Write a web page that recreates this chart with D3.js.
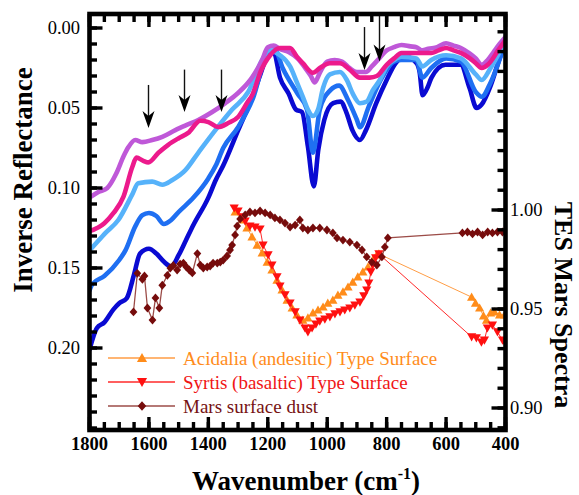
<!DOCTYPE html>
<html>
<head>
<meta charset="utf-8">
<script src="https://cdn.jsdelivr.net/npm/d3@7"></script>
<style>
  body { margin: 0; background: #fff; }
  svg { display: block; }
  text { font-family: "Liberation Serif", "Times New Roman", Times, serif; }
</style>
</head>
<body>
<svg id="chart" width="579" height="495"></svg>
<script>
// ---------- Laboratory spectra (wavenumber cm-1, inverse reflectance) ----------
const labPurple = [[1800,0.106],[1770,0.1025],[1740,0.100],[1710,0.091],[1685,0.080],[1669,0.0744],[1646,0.070],[1622,0.0713],[1589,0.070],[1555,0.068],[1511,0.0638],[1478,0.061],[1434,0.0575],[1387,0.0525],[1343,0.0469],[1300,0.0406],[1253,0.031],[1219,0.020],[1200,0.012],[1180,0.011],[1160,0.013],[1130,0.015],[1100,0.019],[1070,0.026],[1055,0.030],[1042,0.034],[1025,0.028],[1000,0.021],[975,0.020],[950,0.021],[925,0.025],[900,0.0275],[870,0.0275],[850,0.024],[825,0.019],[800,0.014],[775,0.012],[750,0.0106],[720,0.0115],[700,0.012],[680,0.014],[660,0.013],[630,0.012],[600,0.0095],[575,0.011],[550,0.0125],[520,0.016],[500,0.019],[480,0.023],[460,0.020],[440,0.015],[420,0.010],[400,0.0056]];
const labPink = [[1800,0.127],[1750,0.122],[1719,0.1156],[1686,0.1056],[1656,0.0869],[1642,0.081],[1619,0.083],[1602,0.084],[1568,0.078],[1535,0.073],[1501,0.069],[1468,0.0656],[1427,0.058],[1400,0.0588],[1367,0.0619],[1333,0.0594],[1300,0.0556],[1270,0.0469],[1250,0.041],[1226,0.028],[1192,0.017],[1159,0.0125],[1125,0.0125],[1102,0.018],[1082,0.022],[1048,0.028],[1025,0.025],[991,0.022],[957,0.022],[924,0.026],[890,0.031],[857,0.031],[833,0.030],[800,0.023],[775,0.019],[750,0.0156],[700,0.0156],[650,0.0156],[625,0.014],[600,0.0125],[575,0.014],[550,0.0156],[520,0.019],[500,0.022],[480,0.025],[460,0.023],[450,0.021],[425,0.014],[400,0.0075]];
const labLightBlue = [[1800,0.139],[1790,0.137],[1746,0.128],[1703,0.120],[1656,0.104],[1636,0.097],[1589,0.096],[1555,0.098],[1521,0.095],[1478,0.089],[1434,0.078],[1377,0.064],[1320,0.051],[1266,0.040],[1219,0.020],[1195,0.014],[1159,0.017],[1125,0.024],[1102,0.034],[1082,0.043],[1065,0.051],[1048,0.055],[1031,0.051],[1014,0.0375],[991,0.029],[957,0.0275],[934,0.0325],[914,0.041],[890,0.047],[867,0.046],[847,0.039],[823,0.0325],[800,0.024],[775,0.020],[750,0.018],[700,0.019],[680,0.024],[650,0.020],[600,0.017],[550,0.019],[500,0.029],[480,0.0325],[450,0.025],[400,0.0075]];
const labMidBlue = [[1800,0.164],[1790,0.160],[1750,0.155],[1700,0.145],[1679,0.139],[1646,0.124],[1622,0.117],[1600,0.1156],[1575,0.1175],[1550,0.1225],[1525,0.120],[1500,0.115],[1450,0.106],[1400,0.094],[1375,0.086],[1350,0.075],[1300,0.062],[1250,0.044],[1200,0.0156],[1175,0.014],[1150,0.025],[1100,0.041],[1068,0.051],[1048,0.078],[1025,0.051],[990,0.039],[960,0.036],[930,0.045],[900,0.0575],[890,0.062],[860,0.049],[820,0.0325],[775,0.021],[750,0.020],[700,0.020],[680,0.031],[650,0.025],[600,0.019],[550,0.021],[500,0.040],[480,0.043],[450,0.034],[400,0.0087]];
const labDarkBlue = [[1800,0.201],[1775,0.1875],[1750,0.184],[1720,0.176],[1700,0.172],[1675,0.169],[1650,0.154],[1630,0.141],[1600,0.138],[1575,0.141],[1550,0.146],[1525,0.149],[1500,0.142],[1475,0.1325],[1450,0.123],[1400,0.106],[1375,0.095],[1350,0.086],[1300,0.064],[1250,0.042],[1225,0.029],[1200,0.017],[1180,0.015],[1159,0.031],[1130,0.041],[1105,0.051],[1085,0.0525],[1065,0.074],[1045,0.099],[1030,0.076],[1010,0.0575],[980,0.047],[955,0.046],[935,0.053],[915,0.064],[890,0.070],[870,0.064],[835,0.047],[800,0.0325],[770,0.022],[735,0.018],[699,0.022],[689,0.0275],[679,0.042],[662,0.037],[649,0.031],[602,0.023],[551,0.023],[521,0.0375],[497,0.050],[481,0.048],[450,0.036],[420,0.019],[400,0.0087]];

// ---------- TES Mars spectra (wavenumber cm-1, emissivity) ----------
const tesAcidalia = [[1310,0.999],[1286,0.995],[1270,0.991],[1253,0.9864],[1236,0.9823],[1219,0.9783],[1202,0.9737],[1186,0.9697],[1169,0.9646],[1152,0.9596],[1135,0.9545],[1118,0.9505],[1102,0.947],[1082,0.9444],[1065,0.9455],[1048,0.948],[1031,0.9495],[1014,0.951],[998,0.953],[981,0.9545],[964,0.957],[947,0.9586],[930,0.9611],[914,0.9636],[897,0.9662],[880,0.9687],[863,0.9712],[847,0.9747],[833,0.9773],[826,0.9778],[514,0.956],[501,0.953],[487,0.9505],[474,0.9465],[464,0.9444],[450,0.948],[437,0.9485],[420,0.947],[403,0.947]];
const tesSyrtis = [[1313,1.001],[1300,0.9995],[1286,0.9965],[1276,0.9944],[1260,0.9919],[1243,0.9914],[1226,0.9904],[1216,0.9823],[1199,0.9773],[1186,0.9722],[1169,0.9662],[1159,0.9616],[1142,0.9571],[1125,0.953],[1108,0.9485],[1092,0.9444],[1075,0.9404],[1065,0.9384],[1051,0.9404],[1038,0.9424],[1025,0.9439],[1008,0.9449],[991,0.946],[974,0.9475],[957,0.9485],[941,0.9495],[924,0.9505],[907,0.952],[890,0.9535],[877,0.9566],[867,0.9596],[860,0.9631],[853,0.9687],[847,0.9722],[837,0.9758],[826,0.9778],[514,0.9359],[498,0.9354],[481,0.9333],[471,0.9343],[461,0.9404],[444,0.9419],[427,0.9384],[410,0.9343],[400,0.9328]];
const tesDust = [[1652,0.9485],[1639,0.968],[1622,0.965],[1615,0.9667],[1605,0.9505],[1588,0.9444],[1578,0.9556],[1565,0.9505],[1555,0.962],[1538,0.967],[1528,0.9707],[1518,0.972],[1505,0.9697],[1495,0.9727],[1484,0.9732],[1474,0.9712],[1464,0.9697],[1454,0.9682],[1437,0.978],[1427,0.9722],[1417,0.9707],[1404,0.9712],[1394,0.9717],[1384,0.9732],[1370,0.9732],[1360,0.9737],[1350,0.9747],[1337,0.9768],[1327,0.9798],[1320,0.9823],[1310,0.9874],[1303,0.9919],[1293,0.9955],[1276,0.9975],[1260,0.999],[1243,0.9985],[1226,0.9995],[1209,0.9985],[1192,0.9975],[1176,0.996],[1159,0.995],[1142,0.9934],[1125,0.9914],[1108,0.9924],[1092,0.995],[1082,0.9909],[1065,0.9899],[1048,0.9909],[1025,0.9909],[1001,0.9899],[981,0.9884],[967,0.9859],[947,0.9848],[924,0.9838],[900,0.9823],[883,0.9798],[867,0.9763],[850,0.9737],[833,0.9722],[816,0.9763],[806,0.9813],[796,0.9859],[545,0.9884],[528,0.9889],[511,0.9879],[494,0.9889],[477,0.9874],[460,0.9889],[444,0.9884],[427,0.9889],[410,0.9889],[400,0.9889]];

// ---------- Marked absorption features (wavenumber, arrow start, arrow tip) ----------
const arrowWn   = [1602, 1481, 1359, 876, 825];
const arrowFrom = [0.0356, 0.026, 0.026, -0.0006, -0.008];
const arrowTo   = [0.0625, 0.0525, 0.0525, 0.0263, 0.021];

// ---------- Axis ticks and labels ----------
const xMajorTicks = [1800, 1600, 1400, 1200, 1000, 800, 600, 400];
const xMinorTicks = d3.range(1800, 350, -50);
const leftMajorTicks = [0.00, 0.05, 0.10, 0.15, 0.20];
const leftMinorTicks = d3.range(0, 26).map(i => i / 100);
const rightMajorTicks = [0.90, 0.95, 1.00];
const rightMinorTicks = d3.range(89, 110).map(i => i / 100);

const legendLabels = ["Acidalia (andesitic) Type Surface", "Syrtis (basaltic) Type Surface", "Mars surface dust"];

// ---------- Layout ----------
const svg = d3.select("#chart");
svg.append("rect").attr("width", 579).attr("height", 495).attr("fill", "#fff");

const frameL = 89.5, frameR = 505.5, frameT = 14, frameB = 430;
const x  = d3.scaleLinear().domain([1800, 400]).range([frameL, frameR]);
const yL = d3.scaleLinear().domain([0, 0.25]).range([28, 428]);
const yR = d3.scaleLinear().domain([0.90, 1.00]).range([408, 210]);

const plot = svg.append("g");
plot.append("clipPath").attr("id", "clip")
  .append("rect").attr("x", frameL).attr("y", frameT).attr("width", frameR - frameL).attr("height", frameB - frameT);

// Laboratory spectra
const labLine = d3.line().x(d => x(d[0])).y(d => yL(d[1])).curve(d3.curveMonotoneX);
const labSeries = [
  { data: labDarkBlue,  color: "#0a0ad2" },
  { data: labMidBlue,   color: "#1f6ff2" },
  { data: labLightBlue, color: "#56b2fa" },
  { data: labPurple,    color: "#bf58d8" },
  { data: labPink,      color: "#ec1a8c" }
];
const curves = plot.append("g").attr("clip-path", "url(#clip)");
labSeries.forEach(s => {
  curves.append("path").datum(s.data)
    .attr("d", labLine)
    .attr("fill", "none")
    .attr("stroke", s.color)
    .attr("stroke-width", 4.6)
    .attr("stroke-linejoin", "round")
    .attr("stroke-linecap", "round");
});

// TES spectra
const markerPaths = {
  up:      "M0,-4.6L4.6,3.6L-4.6,3.6Z",
  down:    "M0,4.6L4.6,-3.6L-4.6,-3.6Z",
  diamond: "M0,-4.4L3.9,0L0,4.4L-3.9,0Z"
};
const tesSeries = [
  { data: tesAcidalia, line: "#ff9d45", fill: "#ff8c1a", marker: "up",      lw: 1 },
  { data: tesSyrtis,   line: "#ff2a2a", fill: "#ff1010", marker: "down",    lw: 1 },
  { data: tesDust,     line: "#9c4c48", fill: "#760c0c", marker: "diamond", lw: 1.3 }
];
const tesLine = d3.line().x(d => x(d[0])).y(d => yR(d[1]));
const tesG = plot.append("g").attr("clip-path", "url(#clip)");
tesSeries.forEach(s => {
  tesG.append("path").datum(s.data)
    .attr("d", tesLine).attr("fill", "none")
    .attr("stroke", s.line).attr("stroke-width", s.lw);
  tesG.selectAll(null).data(s.data).enter().append("path")
    .attr("d", markerPaths[s.marker])
    .attr("transform", d => `translate(${x(d[0])},${yR(d[1])})`)
    .attr("fill", s.fill);
});

// Arrows marking features
const arrows = plot.append("g");
arrowWn.forEach((wn, i) => {
  const ax = Math.round(x(wn)) + 0.5;
  const y0 = yL(arrowFrom[i]), y1 = yL(arrowTo[i]);
  arrows.append("line")
    .attr("x1", ax).attr("x2", ax).attr("y1", y0).attr("y2", y1 - 10)
    .attr("stroke", "#111").attr("stroke-width", 1.4);
  arrows.append("path")
    .attr("d", `M${ax},${y1}L${ax - 6},${y1 - 17}L${ax},${y1 - 12}L${ax + 6},${y1 - 17}Z`)
    .attr("fill", "#000");
});

// ---------- Axes ----------
function styleAxis(g, fontSize, weight) {
  g.attr("font-family", null).attr("font-size", null);
  g.select(".domain").remove();
  g.selectAll(".tick line").attr("stroke", "#000").attr("stroke-width", 3.4);
  g.selectAll(".tick text")
    .attr("fill", "#000")
    .style("font-family", '"Liberation Serif", "Times New Roman", serif')
    .style("font-size", fontSize + "px")
    .style("font-weight", weight);
}
const blank = () => "";

// bottom
svg.append("g").attr("transform", `translate(0,${frameB})`)
  .call(d3.axisBottom(x).offset(0).tickValues(xMinorTicks).tickSize(-8).tickFormat(blank))
  .call(g => styleAxis(g, 18, "bold"));
svg.append("g").attr("transform", `translate(0,${frameB})`)
  .call(d3.axisBottom(x).offset(0).tickValues(xMajorTicks).tickSize(-13).tickPadding(7).tickFormat(d3.format("d")))
  .call(g => styleAxis(g, 18.5, "bold"));
// top
svg.append("g").attr("transform", `translate(0,${frameT})`)
  .call(d3.axisTop(x).offset(0).tickValues(xMinorTicks).tickSize(-8).tickFormat(blank))
  .call(g => styleAxis(g, 18, "normal"));
svg.append("g").attr("transform", `translate(0,${frameT})`)
  .call(d3.axisTop(x).offset(0).tickValues(xMajorTicks).tickSize(-13).tickFormat(blank))
  .call(g => styleAxis(g, 18, "normal"));
// left
svg.append("g").attr("transform", `translate(${frameL},0)`)
  .call(d3.axisLeft(yL).offset(0).tickValues(leftMinorTicks).tickSize(-7.5).tickFormat(blank))
  .call(g => styleAxis(g, 18, "normal"));
svg.append("g").attr("transform", `translate(${frameL},0)`)
  .call(d3.axisLeft(yL).offset(0).tickValues(leftMajorTicks).tickSize(-13).tickPadding(9.5).tickFormat(d3.format(".2f")))
  .call(g => styleAxis(g, 18.5, "normal"));
// right
svg.append("g").attr("transform", `translate(${frameR},0)`)
  .call(d3.axisRight(yR).offset(0).tickValues(rightMinorTicks).tickSize(-8).tickFormat(blank))
  .call(g => styleAxis(g, 18, "normal"));
svg.append("g").attr("transform", `translate(${frameR},0)`)
  .call(d3.axisRight(yR).offset(0).tickValues(rightMajorTicks).tickSize(-14).tickPadding(4.5).tickFormat(d3.format(".2f")))
  .call(g => styleAxis(g, 18.5, "normal"));

// frame
svg.append("rect")
  .attr("x", frameL).attr("y", frameT).attr("width", frameR - frameL).attr("height", frameB - frameT)
  .attr("fill", "none").attr("stroke", "#000").attr("stroke-width", 4.6);

// ---------- Axis titles ----------
svg.append("text")
  .attr("transform", "translate(32,180) rotate(-90)")
  .attr("text-anchor", "middle")
  .style("font-size", "27px").style("font-weight", "bold")
  .text("Inverse Reflectance");

svg.append("text")
  .attr("transform", "translate(555,305) rotate(90)")
  .attr("text-anchor", "middle")
  .style("font-size", "26px").style("font-weight", "bold")
  .text("TES Mars Spectra");

const xt = svg.append("text")
  .attr("x", 306).attr("y", 490)
  .attr("text-anchor", "middle")
  .style("font-size", "27px").style("font-weight", "bold");
xt.append("tspan").text("Wavenumber (cm");
xt.append("tspan").attr("dy", -11).style("font-size", "16px").text("-1");
xt.append("tspan").attr("dy", 11).text(")");

// ---------- Legend ----------
const legendRowY = [358, 382, 406];
const legendText = ["#ff8c1a", "#f01515", "#761212"];
const legend = svg.append("g");
tesSeries.forEach((s, i) => {
  const yy = legendRowY[i];
  legend.append("line")
    .attr("x1", 108).attr("x2", 175).attr("y1", yy).attr("y2", yy)
    .attr("stroke", s.line).attr("stroke-width", 1.3);
  legend.append("path")
    .attr("d", markerPaths[s.marker])
    .attr("transform", `translate(142,${yy}) scale(1.1)`)
    .attr("fill", s.fill);
  legend.append("text")
    .attr("x", 183).attr("y", yy + 6.5)
    .attr("fill", legendText[i])
    .style("font-size", "19px")
    .text(legendLabels[i]);
});
</script>
</body>
</html>
